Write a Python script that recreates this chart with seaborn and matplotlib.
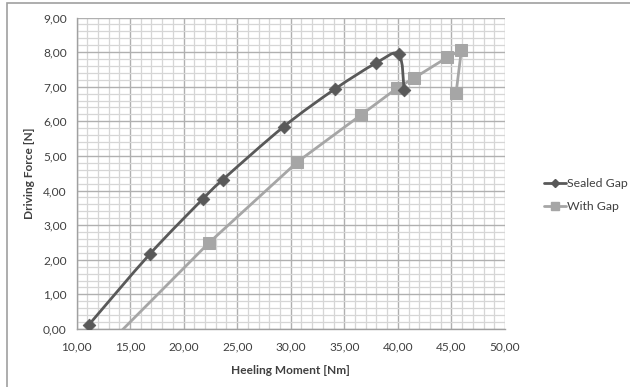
import numpy as np
import pandas as pd
import matplotlib
matplotlib.use("Agg")
import matplotlib.pyplot as plt
from matplotlib.path import Path
from matplotlib.patches import PathPatch, Rectangle
from matplotlib.ticker import MultipleLocator, FuncFormatter
from matplotlib.lines import Line2D
import seaborn as sns

# ---- data ----
sealed_x = [11.15, 16.86, 21.77, 23.64, 29.36, 34.11, 37.94, 40.08, 40.58]
sealed_y = [0.12, 2.17, 3.75, 4.31, 5.85, 6.93, 7.68, 7.94, 6.91]
gap_x = [12.50, 22.33, 30.63, 36.54, 39.93, 41.51, 44.62, 45.93, 45.43]
gap_y = [-0.58, 2.48, 4.83, 6.18, 6.96, 7.25, 7.85, 8.06, 6.81]
series_names = ["Sealed Gap", "With Gap"]
x_label = "Heeling Moment [Nm]"
y_label = "Driving Force [N]"

DARK = "#595959"
LIGHT = "#a6a6a6"

sns.set_theme(style="white")
plt.rcParams["font.family"] = ["Lato", "DejaVu Sans"]

fig = plt.figure(figsize=(6.3, 3.87), dpi=100)
ax = fig.add_axes([76.5 / 630, 1 - 329 / 387, (505 - 76.5) / 630, (329 - 17.5) / 387])

df = pd.concat([
    pd.DataFrame({"x": sealed_x, "y": sealed_y, "s": series_names[0]}),
    pd.DataFrame({"x": gap_x, "y": gap_y, "s": series_names[1]}),
], ignore_index=True)


def smooth_path(xs, ys):
    pts = np.column_stack([xs, ys])
    n = len(pts)
    verts = [pts[0]]
    codes = [Path.MOVETO]
    for i in range(n - 1):
        p0 = pts[i - 1] if i > 0 else pts[i]
        p1 = pts[i]
        p2 = pts[i + 1]
        p3 = pts[i + 2] if i + 2 < n else pts[i + 1]
        c1 = p1 + (p2 - p0) / 6.0
        c2 = p2 - (p3 - p1) / 6.0
        verts += [c1, c2, p2]
        codes += [Path.CURVE4] * 3
    return Path(verts, codes)


# With Gap line (straight segments) + square markers
sns.lineplot(data=df[df.s == series_names[1]], x="x", y="y", sort=False,
             color=LIGHT, lw=2.0, marker="s", markersize=8,
             markeredgecolor=LIGHT, ax=ax, zorder=3)
# Sealed Gap: smoothed line + diamond markers
ax.add_patch(PathPatch(smooth_path(sealed_x, sealed_y), facecolor="none",
                       edgecolor=DARK, lw=2.0, zorder=4))
sns.scatterplot(data=df[df.s == series_names[0]], x="x", y="y",
                color=DARK, marker="D", s=42, edgecolor=DARK, ax=ax, zorder=5)

ax.set_xlim(10, 50)
ax.set_ylim(0, 9)
ax.xaxis.set_major_locator(MultipleLocator(5))
ax.xaxis.set_minor_locator(MultipleLocator(1))
ax.yaxis.set_major_locator(MultipleLocator(1))
ax.yaxis.set_minor_locator(MultipleLocator(0.2))
fmt = FuncFormatter(lambda v, p: f"{v:.2f}".replace(".", ","))
ax.xaxis.set_major_formatter(fmt)
ax.yaxis.set_major_formatter(fmt)

ax.grid(which="major", color="#b0b0b0", lw=1.0, zorder=1)
ax.grid(which="minor", color="#d6d6d6", lw=0.9, zorder=0)
ax.set_axisbelow(True)
for s in ["top", "right"]:
    ax.spines[s].set_visible(False)
for s in ["left", "bottom"]:
    ax.spines[s].set_color("#a0a0a0")
    ax.spines[s].set_linewidth(1.0)

ax.tick_params(axis="both", which="major", labelsize=8.6, colors="#404040",
               length=4, color="#a0a0a0", direction="out", pad=3)
ax.tick_params(axis="x", which="major", pad=5)
ax.set_xlabel(x_label, fontsize=8.6, fontweight="bold", color="#404040", labelpad=9)
ax.set_ylabel(y_label, fontsize=8.6, fontweight="bold", color="#404040", labelpad=6)

handles = [
    Line2D([], [], color=DARK, lw=2.0, marker="D", markersize=4.5),
    Line2D([], [], color=LIGHT, lw=2.0, marker="s", markersize=6),
]
fig.legend(handles, series_names, loc="center left",
           bbox_to_anchor=(533 / 630, 1 - 195 / 387), frameon=False,
           fontsize=8.8, handlelength=1.8, handletextpad=0.12, labelspacing=1.0,
           labelcolor="#404040")

fig.patches.append(Rectangle((6.5 / 630, -0.05), 1.1, 1 - 3.3 / 387 + 0.05,
                             transform=fig.transFigure, fill=False,
                             edgecolor="#a0a0a0", lw=1.2))

fig.savefig("out.png", dpi=100, facecolor="white")
